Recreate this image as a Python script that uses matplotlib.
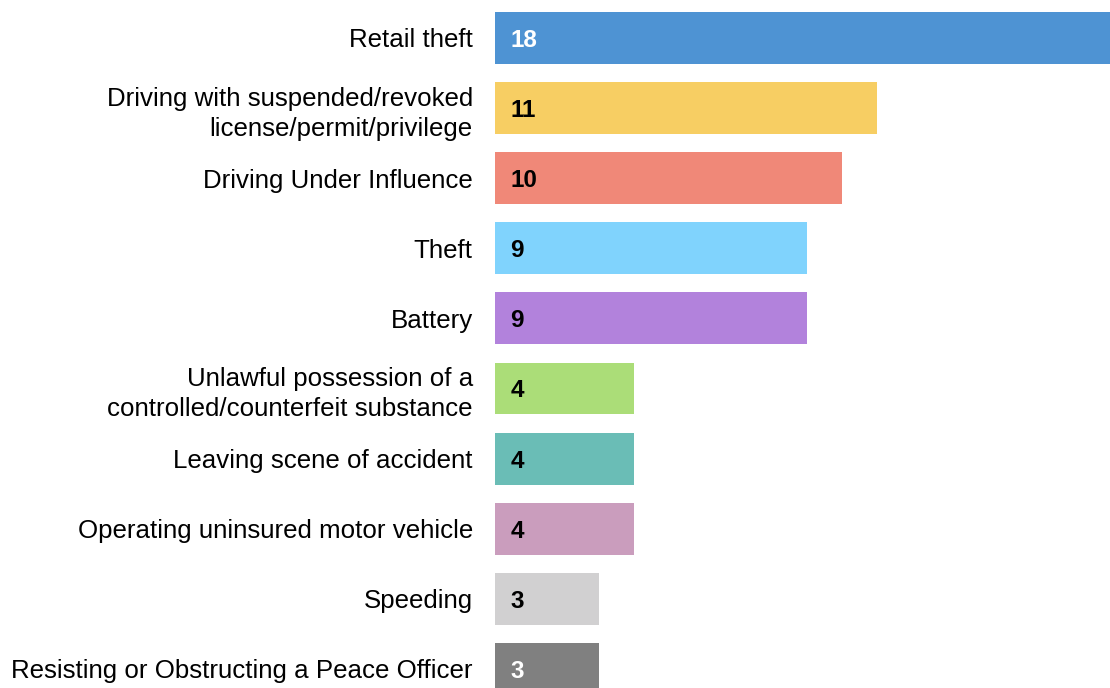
import matplotlib
matplotlib.use("Agg")
import matplotlib.pyplot as plt

categories = [
    "Retail theft",
    "Driving with suspended/revoked\nlicense/permit/privilege",
    "Driving Under Influence",
    "Theft",
    "Battery",
    "Unlawful possession of a\ncontrolled/counterfeit substance",
    "Leaving scene of accident",
    "Operating uninsured motor vehicle",
    "Speeding",
    "Resisting or Obstructing a Peace Officer",
]
values = [18, 11, 10, 9, 9, 4, 4, 4, 3, 3]
colors = ["#4E93D3", "#F7CE63", "#F08878", "#80D3FD", "#B282DC",
          "#ABDD78", "#6ABDB6", "#CA9DBD", "#D1D0D1", "#808080"]
text_colors = ["white", "black", "black", "black", "black",
               "black", "black", "black", "black", "white"]

plt.rcParams['font.family'] = ['Liberation Sans', 'DejaVu Sans']

fig = plt.figure(figsize=(11.10, 6.88), dpi=100)
ax = fig.add_axes([495 / 1110, 0, 1 - 495 / 1110, 1])

y = list(range(len(categories)))
ax.barh(y, values, height=0.74, color=colors)
ax.set_xlim(0, 17.72)
ax.set_ylim(9.273, -0.542)
ax.set_yticks(y)
ax.set_yticklabels(categories, fontsize=18.6, linespacing=1.32)
ax.tick_params(axis='y', length=0, pad=16)
ax.set_xticks([])
for s in ax.spines.values():
    s.set_visible(False)

for yi, v, tc in zip(y, values, text_colors):
    ax.annotate(str(v), xy=(0, yi), xytext=(11, 0), textcoords='offset points',
                ha='left', va='center_baseline', fontsize=17.5, fontweight='bold', color=tc)

fig.savefig("out.png", dpi=100)
